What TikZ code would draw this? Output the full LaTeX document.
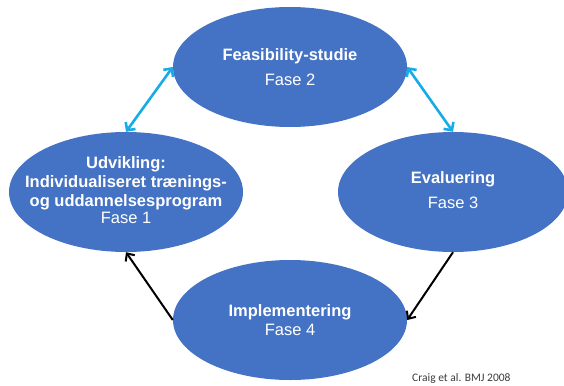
\documentclass[tikz,border=0pt]{standalone}
\usepackage{fontspec}
\setmainfont{Liberation Sans}
\newfontfamily\citefont{Carlito}
\usetikzlibrary{shapes.geometric,arrows.meta}
\definecolor{ellblue}{RGB}{68,114,196}
\definecolor{arrcyan}{RGB}{22,172,230}
\definecolor{citegray}{RGB}{60,60,60}
\tikzset{
  phase/.style={ellipse, fill=ellblue, draw=none, inner sep=0pt,
    minimum width=234pt, minimum height=120pt},
  phasetext/.style={text=white, align=center, inner sep=0pt,
    font=\fontsize{16.5}{19}\selectfont},
  cyanarrow/.style={draw=arrcyan, line width=2.6pt,
    {Straight Barb[length=6pt,width=12pt]}-{Straight Barb[length=6pt,width=12pt]}},
  blackarrow/.style={draw=black, line width=2pt,
    -{Straight Barb[length=6pt,width=11pt]}}
}
\begin{document}
\begin{tikzpicture}[x=1pt,y=-1pt]
\useasboundingbox (0,0) rectangle (564,385);
\node[phase] (top) at (290,67) {};
\node[phase] (left) at (126,192) {};
\node[phase, minimum width=230pt] (right) at (453,192) {};
\node[phase] (bottom) at (290,320) {};
\node[phasetext] (toptext) at (290,67) {\textbf{Feasibility-studie}\\[6pt]Fase 2};
\node[phasetext] (lefttext) at (126,190) {\textbf{Udvikling:}\\\textbf{Individualiseret trænings-}\\\textbf{og uddannelsesprogram}\\[-2pt]Fase 1};
\node[phasetext] (righttext) at (453,190) {\textbf{Evaluering}\\[6pt]Fase 3};
\node[phasetext] (bottomtext) at (290,320) {\textbf{Implementering}\\Fase 4};
\node[font=\citefont\fontsize{11.5}{13}\selectfont, text=citegray, anchor=west, inner sep=0pt] (cite) at (412,378) {Craig et al. BMJ 2008};
\draw[cyanarrow] (left.north) -- (top.west);
\draw[cyanarrow] (top.east) -- (right.north);
\draw[blackarrow] (right.south) -- (bottom.east);
\draw[blackarrow] (bottom.west) -- (left.south);
\end{tikzpicture}
\end{document}
